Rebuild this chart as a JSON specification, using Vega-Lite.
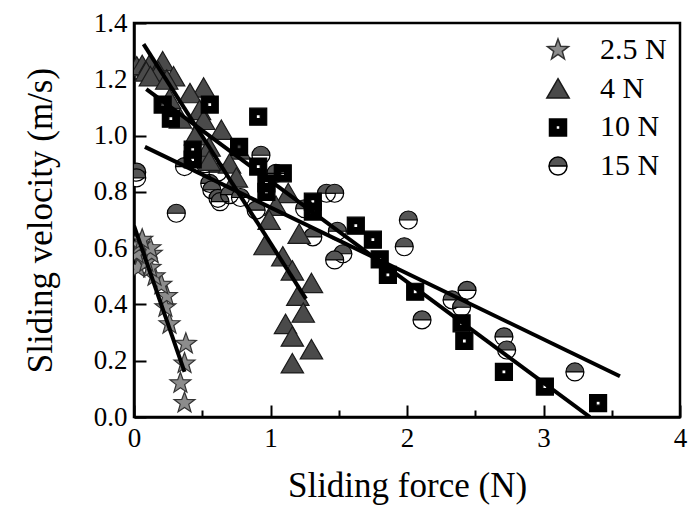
{
  "$schema": "https://vega.github.io/schema/vega-lite/v6.json",
  "width": 546,
  "height": 394,
  "autosize": {"type": "none"},
  "padding": {"left": 134, "top": 23, "right": 19, "bottom": 101},
  "background": "white",
  "config": {
    "view": {"stroke": "#000000", "strokeWidth": 2.5},
    "font": "Liberation Serif",
    "axis": {
      "domainColor": "#000000",
      "domainWidth": 2.5,
      "tickColor": "#000000",
      "tickWidth": 2,
      "grid": false,
      "labelFont": "Liberation Serif",
      "labelFontSize": 27,
      "labelColor": "#000000",
      "titleFont": "Liberation Serif",
      "titleFontSize": 35,
      "titleFontWeight": "normal",
      "titleColor": "#000000",
      "labelFlush": false,
      "labelOverlap": false
    },
    "legend": {
      "labelFont": "Liberation Serif",
      "labelFontSize": 30,
      "labelColor": "#000000"
    }
  },
  "datasets": {
    "pts": [
      {"series": "15 N", "force": 0.02, "velocity": 0.87},
      {"series": "15 N", "force": 0.02, "velocity": 0.85},
      {"series": "15 N", "force": 0.31, "velocity": 0.724},
      {"series": "15 N", "force": 0.37, "velocity": 0.89},
      {"series": "15 N", "force": 0.51, "velocity": 0.913},
      {"series": "15 N", "force": 0.52, "velocity": 0.9},
      {"series": "15 N", "force": 0.555, "velocity": 0.83},
      {"series": "15 N", "force": 0.57, "velocity": 0.807},
      {"series": "15 N", "force": 0.615, "velocity": 0.87},
      {"series": "15 N", "force": 0.615, "velocity": 0.777},
      {"series": "15 N", "force": 0.63, "velocity": 0.765},
      {"series": "15 N", "force": 0.7, "velocity": 0.79},
      {"series": "15 N", "force": 0.78, "velocity": 0.78},
      {"series": "15 N", "force": 0.895, "velocity": 0.735},
      {"series": "15 N", "force": 0.93, "velocity": 0.93},
      {"series": "15 N", "force": 1.04, "velocity": 0.866},
      {"series": "15 N", "force": 1.25, "velocity": 0.74},
      {"series": "15 N", "force": 1.31, "velocity": 0.64},
      {"series": "15 N", "force": 1.41, "velocity": 0.795},
      {"series": "15 N", "force": 1.47, "velocity": 0.795},
      {"series": "15 N", "force": 1.49, "velocity": 0.66},
      {"series": "15 N", "force": 1.53, "velocity": 0.58},
      {"series": "15 N", "force": 1.47, "velocity": 0.558},
      {"series": "15 N", "force": 2.01, "velocity": 0.7},
      {"series": "15 N", "force": 1.98, "velocity": 0.605},
      {"series": "15 N", "force": 2.11, "velocity": 0.345},
      {"series": "15 N", "force": 2.33, "velocity": 0.416},
      {"series": "15 N", "force": 2.44, "velocity": 0.45},
      {"series": "15 N", "force": 2.4, "velocity": 0.39},
      {"series": "15 N", "force": 2.71, "velocity": 0.285},
      {"series": "15 N", "force": 2.73, "velocity": 0.238},
      {"series": "15 N", "force": 3.23, "velocity": 0.16},
      {"series": "4 N", "force": 0.02, "velocity": 1.245},
      {"series": "4 N", "force": 0.06, "velocity": 1.25},
      {"series": "4 N", "force": 0.12, "velocity": 1.257},
      {"series": "4 N", "force": 0.21, "velocity": 1.263},
      {"series": "4 N", "force": 0.09, "velocity": 1.227},
      {"series": "4 N", "force": 0.18, "velocity": 1.227},
      {"series": "4 N", "force": 0.29, "velocity": 1.21},
      {"series": "4 N", "force": 0.12, "velocity": 1.21},
      {"series": "4 N", "force": 0.24, "velocity": 1.198},
      {"series": "4 N", "force": 0.51, "velocity": 1.17},
      {"series": "4 N", "force": 0.41, "velocity": 1.15},
      {"series": "4 N", "force": 0.48, "velocity": 1.09},
      {"series": "4 N", "force": 0.26, "velocity": 1.13},
      {"series": "4 N", "force": 0.34, "velocity": 1.06},
      {"series": "4 N", "force": 0.51, "velocity": 1.055},
      {"series": "4 N", "force": 0.64, "velocity": 1.02},
      {"series": "4 N", "force": 0.45, "velocity": 1.0},
      {"series": "4 N", "force": 0.77, "velocity": 0.95},
      {"series": "4 N", "force": 0.55, "velocity": 0.96},
      {"series": "4 N", "force": 0.7, "velocity": 0.9},
      {"series": "4 N", "force": 0.75, "velocity": 0.85},
      {"series": "4 N", "force": 0.55, "velocity": 0.91},
      {"series": "4 N", "force": 1.13, "velocity": 0.795},
      {"series": "4 N", "force": 1.04, "velocity": 0.75},
      {"series": "4 N", "force": 0.99, "velocity": 0.7},
      {"series": "4 N", "force": 1.21, "velocity": 0.65},
      {"series": "4 N", "force": 0.96, "velocity": 0.61},
      {"series": "4 N", "force": 1.09, "velocity": 0.57},
      {"series": "4 N", "force": 1.16, "velocity": 0.52},
      {"series": "4 N", "force": 1.3, "velocity": 0.475},
      {"series": "4 N", "force": 1.2, "velocity": 0.43},
      {"series": "4 N", "force": 1.24, "velocity": 0.37},
      {"series": "4 N", "force": 1.11, "velocity": 0.33},
      {"series": "4 N", "force": 1.16, "velocity": 0.285},
      {"series": "4 N", "force": 1.3, "velocity": 0.24},
      {"series": "4 N", "force": 1.16, "velocity": 0.19},
      {"series": "10 N", "force": 0.21, "velocity": 1.11},
      {"series": "10 N", "force": 0.27, "velocity": 1.06},
      {"series": "10 N", "force": 0.555, "velocity": 1.11},
      {"series": "10 N", "force": 0.43, "velocity": 0.95},
      {"series": "10 N", "force": 0.43, "velocity": 0.915},
      {"series": "10 N", "force": 0.77, "velocity": 0.96},
      {"series": "10 N", "force": 0.91, "velocity": 1.067},
      {"series": "10 N", "force": 0.91, "velocity": 0.89},
      {"series": "10 N", "force": 1.09, "velocity": 0.866},
      {"series": "10 N", "force": 0.97, "velocity": 0.83},
      {"series": "10 N", "force": 0.97, "velocity": 0.8},
      {"series": "10 N", "force": 1.31, "velocity": 0.765},
      {"series": "10 N", "force": 1.31, "velocity": 0.73},
      {"series": "10 N", "force": 1.625, "velocity": 0.68},
      {"series": "10 N", "force": 1.75, "velocity": 0.63},
      {"series": "10 N", "force": 1.8, "velocity": 0.56},
      {"series": "10 N", "force": 1.86, "velocity": 0.505},
      {"series": "10 N", "force": 2.06, "velocity": 0.445},
      {"series": "10 N", "force": 2.4, "velocity": 0.333},
      {"series": "10 N", "force": 2.42, "velocity": 0.27},
      {"series": "10 N", "force": 2.71, "velocity": 0.16},
      {"series": "10 N", "force": 3.01, "velocity": 0.108},
      {"series": "10 N", "force": 3.4, "velocity": 0.049},
      {"series": "2.5 N", "force": 0.37, "velocity": 0.05},
      {"series": "2.5 N", "force": 0.34, "velocity": 0.12},
      {"series": "2.5 N", "force": 0.37, "velocity": 0.19},
      {"series": "2.5 N", "force": 0.38, "velocity": 0.26},
      {"series": "2.5 N", "force": 0.26, "velocity": 0.33},
      {"series": "2.5 N", "force": 0.23, "velocity": 0.39},
      {"series": "2.5 N", "force": 0.24, "velocity": 0.43},
      {"series": "2.5 N", "force": 0.2, "velocity": 0.47},
      {"series": "2.5 N", "force": 0.15, "velocity": 0.5},
      {"series": "2.5 N", "force": 0.12, "velocity": 0.53},
      {"series": "2.5 N", "force": 0.07, "velocity": 0.56},
      {"series": "2.5 N", "force": 0.03, "velocity": 0.53},
      {"series": "2.5 N", "force": 0.09, "velocity": 0.55},
      {"series": "2.5 N", "force": 0.02, "velocity": 0.58},
      {"series": "2.5 N", "force": 0.13, "velocity": 0.58},
      {"series": "2.5 N", "force": 0.12, "velocity": 0.6},
      {"series": "2.5 N", "force": 0.04, "velocity": 0.61},
      {"series": "2.5 N", "force": 0.06, "velocity": 0.63}
    ],
    "fits": [
      {"series": "2.5 N", "force": 0.0, "velocity": 0.68},
      {"series": "2.5 N", "force": 0.37, "velocity": 0.16},
      {"series": "4 N", "force": 0.07, "velocity": 1.325},
      {"series": "4 N", "force": 1.26, "velocity": 0.42},
      {"series": "10 N", "force": 0.09, "velocity": 1.165},
      {"series": "10 N", "force": 3.34, "velocity": 0.0},
      {"series": "15 N", "force": 0.08, "velocity": 0.96},
      {"series": "15 N", "force": 3.56, "velocity": 0.145}
    ]
  },
  "layer": [
    {
      "data": {"name": "pts"},
      "transform": [{"filter": "datum.series === '15 N'"}],
      "mark": {"type": "point", "shape": "circle", "filled": true, "fill": "#ffffff", "stroke": null, "opacity": 1, "size": 324, "clip": true},
      "encoding": {
        "x": {
          "field": "force", "type": "quantitative",
          "scale": {"domain": [0, 4], "nice": false, "zero": false},
          "axis": {
            "title": "Sliding force (N)",
            "values": [0, 0.5, 1, 1.5, 2, 2.5, 3, 3.5, 4],
            "labelExpr": "datum.value % 1 === 0 ? format(datum.value, 'd') : ''",
            "tickSize": {"condition": {"test": "datum.value % 1 === 0", "value": -12}, "value": -7},
            "labelPadding": 20,
            "titlePadding": 12
          }
        },
        "y": {
          "field": "velocity", "type": "quantitative",
          "scale": {"domain": [0, 1.4], "nice": false, "zero": false},
          "axis": {
            "title": "Sliding velocity (m/s)",
            "values": [0, 0.1, 0.2, 0.3, 0.4, 0.5, 0.6, 0.7, 0.8, 0.9, 1.0, 1.1, 1.2, 1.3, 1.4],
            "labelExpr": "round(datum.value * 10) % 2 === 0 ? format(datum.value, '.1f') : ''",
            "tickSize": {"condition": {"test": "round(datum.value * 10) % 2 === 0", "value": -12}, "value": -7},
            "labelPadding": 19,
            "titlePadding": 35
          }
        }
      }
    },
    {
      "data": {"name": "pts"},
      "mark": {"type": "point", "filled": true, "opacity": 1, "strokeWidth": 1.2, "size": 400, "clip": true},
      "encoding": {
        "x": {"field": "force", "type": "quantitative"},
        "y": {"field": "velocity", "type": "quantitative"},
        "shape": {
          "field": "series", "type": "nominal",
          "scale": {
            "domain": ["2.5 N", "4 N", "10 N", "15 N"],
            "range": [
              "M0,-1.1L0.265,-0.364L1.046,-0.34L0.428,0.139L0.647,0.89L0,0.45L-0.647,0.89L-0.428,0.139L-1.046,-0.34L-0.265,-0.364Z",
              "M0,-1L1.12,0.94L-1.12,0.94Z",
              "M-0.85,-0.85H0.85V0.85H-0.85Z M-0.2,-0.2V0.2H0.2V-0.2Z",
              "M-0.9,0A0.9,0.9,0,0,1,0.9,0Z M0.9,0A0.9,0.9,0,0,1,-0.9,0A0.9,0.9,0,0,0,0.9,0"
            ]
          },
          "legend": {
            "title": null,
            "orient": "none",
            "legendX": 409,
            "legendY": 12,
            "symbolSize": 400,
            "rowPadding": 8.7,
            "labelOffset": 27
          }
        },
        "fill": {
          "field": "series", "type": "nominal",
          "scale": {
            "domain": ["2.5 N", "4 N", "10 N", "15 N"],
            "range": ["#8c8c8c", "#4a4a4a", "#000000", "#555555"]
          },
          "legend": {
            "title": null,
            "orient": "none",
            "legendX": 409,
            "legendY": 12,
            "symbolSize": 400,
            "rowPadding": 8.7,
            "labelOffset": 27
          }
        },
        "stroke": {
          "field": "series", "type": "nominal",
          "scale": {
            "domain": ["2.5 N", "4 N", "10 N", "15 N"],
            "range": ["#333333", "#1a1a1a", "#000000", "#000000"]
          },
          "legend": {
            "title": null,
            "orient": "none",
            "legendX": 409,
            "legendY": 12,
            "symbolSize": 400,
            "rowPadding": 8.7,
            "labelOffset": 27
          }
        }
      }
    },
    {
      "data": {"name": "fits"},
      "mark": {"type": "line", "color": "#000000", "strokeWidth": 4, "clip": true},
      "encoding": {
        "x": {"field": "force", "type": "quantitative"},
        "y": {"field": "velocity", "type": "quantitative"},
        "detail": {"field": "series", "type": "nominal"}
      }
    }
  ]
}
